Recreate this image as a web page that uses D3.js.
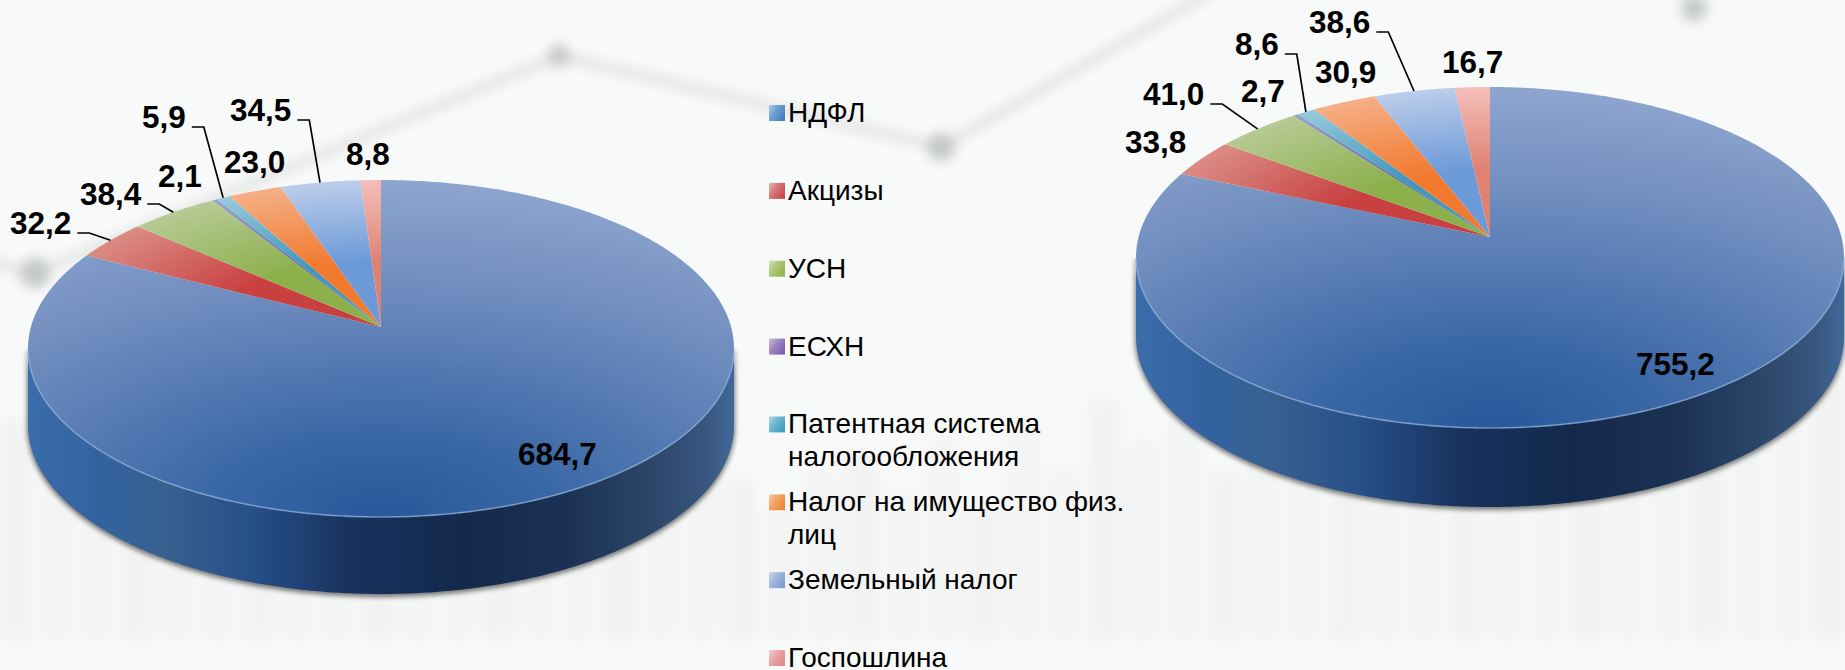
<!DOCTYPE html>
<html lang="ru">
<head>
    <meta charset="UTF-8">
    <script src="https://d3js.org/d3.v7.min.js"></script>
    <style>
        html, body {margin: 0; padding: 0; background: #f8f9f9; overflow: hidden}
        svg {display: block}
        text {font-family: "Liberation Sans", Arial, sans-serif; fill: #000}
    </style>
</head>
<body>
<svg id="chart" width="1845" height="670"></svg>
<script type="text/javascript">
    // chart values
    const categories = ['НДФЛ', 'Акцизы', 'УСН', 'ЕСХН', 'Патентная система налогообложения',
        'Налог на имущество физ. лиц', 'Земельный налог', 'Госпошлина'];
    const legendLines = [['НДФЛ'], ['Акцизы'], ['УСН'], ['ЕСХН'], ['Патентная система', 'налогообложения'],
        ['Налог на имущество физ.', 'лиц'], ['Земельный налог'], ['Госпошлина']];
    const valuesLeft = [684.7, 32.2, 38.4, 2.1, 5.9, 23.0, 34.5, 8.8];
    const valuesRight = [755.2, 33.8, 41.0, 2.7, 8.6, 30.9, 38.6, 16.7];

    // faded picture behind the chart
    const bgLine = [[-10, 262], [35, 273], [559, 56], [941, 147], [1215, -10]];
    const bgDots = [[35, 273, 15], [559, 56, 11], [941, 147, 14], [1694, 8, 13]];
    const bgBarTops = [420, 360, 400, 350, 430, 370, 350, 410, 360, 380, 430, 360, 400, 350, 420, 370,
        440, 460, 480, 510, 470, 450, 490, 440, 500, 420, 470, 400, 440, 410, 470, 430, 390, 420, 380,
        400, 440, 380, 430, 370, 400, 450, 380, 430, 400, 370];

    // hand placed labels as in the original slide: [left x, baseline y]
    const labelPosLeft = [[518, 465], [10, 234], [80, 205], [158, 187], [142, 128], [224, 173], [230, 121], [346, 165]];
    const labelPosRight = [[1636, 375], [1125, 153], [1143, 105], [1241, 102], [1235, 55], [1315, 83], [1309, 33], [1442, 73]];
    const leadersLeft = [1, 2, 4, 6];
    const leadersRight = [2, 4, 6];

    const sliceColors = [null,
        ['#c83f3f', '#dc9088'],
        ['#8cb04c', '#b8cb96'],
        ['#5f6fa8', '#98a8c8'],
        ['#3f96bd', '#9acbdc'],
        ['#f27a2e', '#f5b088'],
        ['#6c9ad8', '#bccdea'],
        ['#e08272', '#f3bfba']];
    const legendColors = ['#3f7fc4', '#c84a4a', '#93b550', '#7d5fb0', '#3fa0bd', '#ee8636', '#7f9fd2', '#e08a88'];

    const svg = d3.select('#chart');
    const defs = svg.append('defs');

    function blur(id, dev) {
        defs.append('filter').attr('id', id)
            .attr('x', '-10%').attr('y', '-10%').attr('width', '120%').attr('height', '120%')
            .append('feGaussianBlur').attr('stdDeviation', dev);
    }
    blur('bgBlur', 7);
    blur('lineBlur', 6);
    blur('shadowBlur', 2.5);
    blur('sliceBlur', 0.7);
    blur('textBlur', 0.25);

    function stops(grad, list) {
        list.forEach(s => grad.append('stop').attr('offset', s[0]).attr('stop-color', s[1]));
    }

    // background
    const bg = svg.append('g');
    bg.append('rect').attr('width', 1845).attr('height', 670).attr('fill', '#f8f9f9');
    const xBar = d3.scaleBand().domain(d3.range(bgBarTops.length)).range([0, 1845]).paddingInner(0.22);
    bg.append('g').attr('filter', 'url(#bgBlur)')
        .selectAll('rect').data(bgBarTops).enter().append('rect')
        .attr('x', (d, i) => xBar(i))
        .attr('y', d => d)
        .attr('width', xBar.bandwidth())
        .attr('height', d => 640 - d)
        .attr('fill', (d, i) => i % 3 === 0 ? '#f1f2f2' : '#f3f4f4');
    const bgG = bg.append('g').attr('filter', 'url(#lineBlur)');
    bgG.append('path').attr('d', d3.line()(bgLine)).attr('fill', 'none').attr('stroke', '#dee0e0').attr('stroke-width', 8);
    bgG.selectAll('circle').data(bgDots).enter().append('circle')
        .attr('cx', d => d[0]).attr('cy', d => d[1]).attr('r', d => d[2]).attr('fill', '#c6c9c9');

    function drawPie(id, values, labelPos, leaders, cx, apexY, topY, bottomY, rimX, depth) {
        // perspective disc: apex sits above the middle of the ellipse
        let up = apexY - topY, down = bottomY - apexY;
        let k = (down - up) / (down + up);
        let ry = up * (1 + k);
        let rx = rimX * Math.sqrt(1 - k * k);

        function project(a) {
            let u = Math.sin(a), v = -Math.cos(a);
            let w = 1 - k * v;
            return [cx + rx * u / w, apexY + ry * v / w];
        }

        let arcs = d3.pie().sort(null).value(d => d)(values);
        let rim = d3.range(0, 721).map(i => project(i / 720 * 2 * Math.PI));
        let iLeft = d3.leastIndex(rim, (a, b) => a[0] - b[0]);
        let iRight = d3.leastIndex(rim, (a, b) => b[0] - a[0]);
        // going clockwise from the right extreme over the bottom to the left extreme
        let front = rim.slice(iRight, iLeft + 1);

        let line = d3.line();
        let lowerFront = front.map(p => [p[0], p[1] + depth]);
        let wall = front.concat(lowerFront.slice().reverse());

        let g = svg.append('g');

        // side wall and shadow
        g.append('path').attr('d', line(wall) + 'Z')
            .attr('transform', 'translate(0,2)')
            .attr('fill', '#4a4a4a').attr('stroke', '#4a4a4a').attr('stroke-width', 2)
            .attr('filter', 'url(#shadowBlur)').attr('opacity', 0.75);

        let wallGrad = defs.append('linearGradient').attr('id', id + 'Wall')
            .attr('gradientUnits', 'userSpaceOnUse')
            .attr('x1', cx - rimX).attr('x2', cx + rimX).attr('y1', 0).attr('y2', 0);
        stops(wallGrad, [[0, '#3b6cab'], [0.1, '#33639f'], [0.2, '#37608f'], [0.32, '#274f89'],
            [0.46, '#17325d'], [0.62, '#14294c'], [0.76, '#1b3154'], [0.88, '#2b4668'], [0.96, '#38567e'], [1, '#41689b']]);
        g.append('path').attr('d', line(wall) + 'Z').attr('fill', 'url(#' + id + 'Wall)');

        // top face gradients
        let faceGrad = defs.append('radialGradient').attr('id', id + 'Face')
            .attr('gradientUnits', 'userSpaceOnUse')
            .attr('cx', 0).attr('cy', 0).attr('r', 1)
            .attr('gradientTransform', `translate(${cx},${bottomY}) scale(${2 * rimX},${bottomY - topY})`);
        stops(faceGrad, [[0, '#29589b'], [0.25, '#3a68a6'], [0.5, '#5a7db5'], [0.72, '#7390c0'], [1, '#8ea5cf']]);

        function slicePath(d) {
            let n = Math.max(2, Math.ceil((d.endAngle - d.startAngle) / 0.01));
            let pts = d3.range(n + 1).map(j => project(d.startAngle + (d.endAngle - d.startAngle) * j / n));
            return line([[cx, apexY]].concat(pts)) + 'Z';
        }

        g.append('path').attr('d', slicePath(arcs[0])).attr('fill', 'url(#' + id + 'Face)');
        g.append('path').attr('d', line(front)).attr('fill', 'none')
            .attr('stroke', '#8fb0dc').attr('stroke-width', 1.6).attr('opacity', 0.7);

        let sliceG = g.append('g').attr('filter', 'url(#sliceBlur)');
        arcs.slice(1).forEach((d, i) => {
            let gid = id + 'Slice' + (i + 1);
            let grad = defs.append('radialGradient').attr('id', gid)
                .attr('gradientUnits', 'userSpaceOnUse')
                .attr('cx', 0).attr('cy', 0).attr('r', 1)
                .attr('gradientTransform', `translate(${cx},${apexY}) scale(${rimX},${up})`);
            stops(grad, [[0, sliceColors[i + 1][0]], [0.45, sliceColors[i + 1][0]], [1, sliceColors[i + 1][1]]]);
            sliceG.append('path').attr('d', slicePath(d)).attr('fill', 'url(#' + gid + ')');
        });

        // value labels
        let labels = g.selectAll('text.val').data(values).enter().append('text')
            .attr('class', 'val')
            .attr('x', (d, i) => labelPos[i][0])
            .attr('y', (d, i) => labelPos[i][1])
            .attr('font-size', '31.5px').attr('font-weight', 'bold')
            .text(d => d.toFixed(1).replace('.', ','));

        leaders.forEach(i => {
            let a = (arcs[i].startAngle + arcs[i].endAngle) / 2;
            let end = project(a);
            let x0 = labelPos[i][0] + labels.nodes()[i].getComputedTextLength() + 6;
            let y0 = labelPos[i][1] - 1;
            g.append('path').attr('d', line([[x0, y0], [x0 + 12, y0], end]))
                .attr('fill', 'none').attr('stroke', '#000').attr('stroke-width', 1.7);
        });
    }

    drawPie('left', valuesLeft, labelPosLeft, leadersLeft, 381, 327, 180, 517, 353, 77);
    drawPie('right', valuesRight, labelPosRight, leadersRight, 1490, 237, 87, 428, 354, 79);

    // legend
    const yLegend = d3.scalePoint().domain(categories).range([122, 667]);
    const legend = svg.append('g');
    categories.forEach((c, i) => {
        let grad = defs.append('linearGradient').attr('id', 'key' + i)
            .attr('x1', 0).attr('y1', 0).attr('x2', 1).attr('y2', 0.7);
        stops(grad, [[0, d3.interpolateRgb(legendColors[i], '#ffffff')(0.6)], [0.45, d3.interpolateRgb(legendColors[i], '#ffffff')(0.25)], [1, legendColors[i]]]);
        let row = legend.append('g').attr('transform', `translate(0,${yLegend(c)})`);
        row.append('rect').attr('x', 769).attr('y', -17).attr('width', 16).attr('height', 16)
            .attr('fill', 'url(#key' + i + ')').attr('filter', 'url(#textBlur)');
        legendLines[i].forEach((t, j) => {
            row.append('text').attr('x', 788).attr('y', j * 33)
                .attr('font-size', '28px').text(t);
        });
    });
</script>
</body>
</html>
